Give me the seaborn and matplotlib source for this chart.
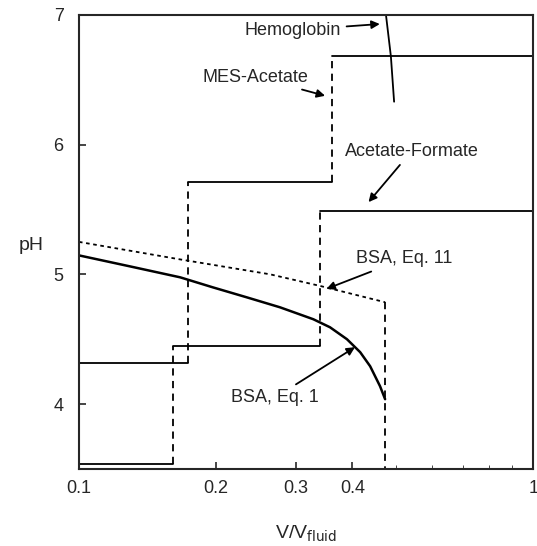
import numpy as np
import pandas as pd
import matplotlib
matplotlib.use("Agg")
import matplotlib.pyplot as plt
from matplotlib.ticker import FixedLocator, NullFormatter
import seaborn as sns

# step boundaries (x = V/V_fluid) and pH levels
mes_x = [0.1, 0.174, 0.361, 1.0]
mes_ph = [4.32, 5.71, 6.68]
af_x = [0.1, 0.161, 0.340, 1.0]
af_ph = [3.54, 4.446, 5.485]

# hemoglobin curve
hb_x = [0.474, 0.486, 0.494]
hb_ph = [7.0, 6.68, 6.33]

# BSA, Eq. 11 (dotted)
bsa11_x = [0.1, 0.167, 0.2636, 0.340, 0.472]
bsa11_ph = [5.25, 5.115, 5.0, 4.91, 4.785]

# BSA, Eq. 1 (solid curve)
bsa1_x = [0.1, 0.13, 0.167, 0.197, 0.234, 0.277, 0.328, 0.357, 0.389,
          0.416, 0.4375, 0.460, 0.472]
bsa1_ph = [5.146, 5.06, 4.977, 4.90, 4.823, 4.746, 4.654, 4.592, 4.50,
           4.40, 4.292, 4.138, 4.038]

sns.set_style("ticks")
plt.rcParams['font.family'] = ['Liberation Sans', 'DejaVu Sans']

fig = plt.figure(figsize=(5.37, 5.46), dpi=100)
ax = fig.add_axes([0.147, 0.141, 0.846, 0.832])
ax.set_xscale("log")


def seg(xs, ys, ls, lw=1.3):
    df = pd.DataFrame({"x": xs, "y": ys})
    sns.lineplot(data=df, x="x", y="y", ax=ax, color="black", lw=lw,
                 linestyle=ls, sort=False, estimator=None)


def steps(xs, levels):
    for i, lvl in enumerate(levels):
        seg([xs[i], xs[i + 1]], [lvl, lvl], "-")
        if i + 1 < len(levels):
            seg([xs[i + 1], xs[i + 1]], [lvl, levels[i + 1]], (0, (4, 3)))


steps(mes_x, mes_ph)
steps(af_x, af_ph)
seg(hb_x, hb_ph, "-")
seg(bsa11_x, bsa11_ph, (0, (2, 2)))
seg([bsa11_x[-1], bsa11_x[-1]], [bsa11_ph[-1], 3.5], (0, (4, 3)))
seg(bsa1_x, bsa1_ph, "-", lw=1.8)

ax.set_xlim(0.1, 1.0)
ax.set_ylim(3.5, 7.0)
ax.xaxis.set_major_locator(FixedLocator([0.1, 0.2, 0.3, 0.4, 1.0]))
ax.xaxis.set_minor_locator(FixedLocator([0.5, 0.6, 0.7, 0.8, 0.9]))
ax.xaxis.set_minor_formatter(NullFormatter())
ax.set_xticklabels(["0.1", "0.2", "0.3", "0.4", "1"])
ax.set_yticks([4, 5, 6, 7])
ax.tick_params(direction="in", labelsize=13, length=5, width=1.2, pad=8)
ax.tick_params(axis="y", pad=11)
ax.tick_params(which="minor", direction="in", length=3)
for s in ax.spines.values():
    s.set_linewidth(1.5)

ax.set_xlabel("")
ax.set_ylabel("")
fig.text(0.035, 0.55, "pH", fontsize=14, ha="left", va="center")
fig.text(0.57, 0.003, r"V/V$_{\mathrm{fluid}}$", fontsize=14, ha="center", va="bottom")

arrow = dict(arrowstyle="-|>", color="black", lw=1.3, mutation_scale=12)
ax.annotate("Hemoglobin", xy=(0.466, 6.93), xytext=(0.295, 6.88), fontsize=13,
            va="center", ha="center", arrowprops=arrow)
ax.annotate("MES-Acetate", xy=(0.353, 6.37), xytext=(0.245, 6.52), fontsize=13,
            va="center", ha="center", arrowprops=arrow)
ax.annotate("Acetate-Formate", xy=(0.43, 5.54), xytext=(0.54, 5.95), fontsize=13,
            va="center", ha="center", arrowprops=arrow)
ax.annotate("BSA, Eq. 11", xy=(0.346, 4.88), xytext=(0.52, 5.12), fontsize=13,
            va="center", ha="center", arrowprops=arrow)
ax.annotate("BSA, Eq. 1", xy=(0.41, 4.45), xytext=(0.27, 4.05), fontsize=13,
            va="center", ha="center", arrowprops=arrow)

fig.savefig("out.png", dpi=100)
